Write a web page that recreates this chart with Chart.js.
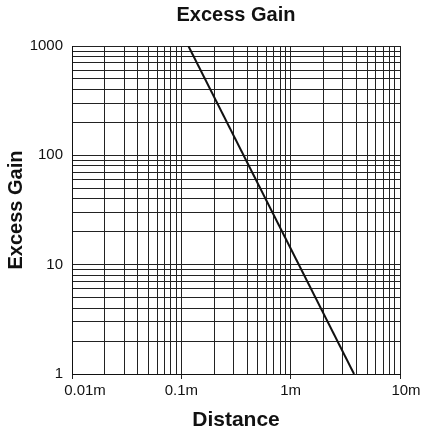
<!DOCTYPE html>
<html>
<head>
<meta charset="utf-8">
<script src="https://cdn.jsdelivr.net/npm/chart.js@4/dist/chart.umd.min.js"></script>
<style>
  html, body { margin: 0; padding: 0; background: #fff; }
  #wrap { width: 422px; height: 438px; }
</style>
</head>
<body>
<div id="wrap"><canvas id="chart1"></canvas></div>
<script>
"use strict";

// data
var distance = [0.116, 3.8];
var gain = [1000, 1];

var xTickValues = [0.01, 0.02, 0.03, 0.04, 0.05, 0.06, 0.07, 0.08, 0.09,
                   0.1, 0.2, 0.3, 0.4, 0.5, 0.6, 0.7, 0.8, 0.9,
                   1, 2, 3, 4, 5, 6, 7, 8, 9, 10];
var xMajor = [0.01, 0.1, 1, 10];
var xLabels = ['0.01m', '0.1m', '1m', '10m'];

var yTickValues = [1, 2, 3, 4, 5, 6, 7, 8, 9,
                   10, 20, 30, 40, 50, 60, 70, 80, 90,
                   100, 200, 300, 400, 500, 600, 700, 800, 900, 1000];
var yMajor = [1, 10, 100, 1000];
var yLabels = ['1', '10', '100', '1000'];

var FONT = 'Arial, "Liberation Sans", Helvetica, sans-serif';
Chart.defaults.font.family = FONT;
Chart.defaults.color = '#111';

function labelFor(majors, labels, v) {
	for (var i = 0; i < majors.length; i++) {
		if (Math.abs(majors[i] - v) < majors[i] * 1e-6) return labels[i];
	}
	return '';
}

// the first and last distance labels sit a little right of their ticks
var shiftEdgeLabels = {
	id: 'shiftEdgeLabels',
	beforeDraw: function(chart) {
		var items = chart.scales.x.getLabelItems(chart.chartArea);
		items.forEach(function(it) {
			if (it.label === '0.01m') it.options.translation[0] += 13;
			if (it.label === '10m') it.options.translation[0] += 6;
		});
	}
};

var ctx = document.getElementById('chart1').getContext('2d');
var myChart = new Chart(ctx, {
	type: 'line',
	data: {
		labels: distance,
		datasets: [{
			label: 'Excess Gain',
			data: distance.map(function(d, i) { return { x: d, y: gain[i] }; }),
			borderColor: '#111',
			borderWidth: 2,
			pointRadius: 0,
			tension: 0,
			fill: false
		}]
	},
	options: {
		responsive: true,
		maintainAspectRatio: false,
		animation: false,
		layout: {
			padding: { left: 0, right: 22, top: 0, bottom: 0 }
		},
		plugins: {
			legend: { display: false },
			tooltip: { enabled: false },
			title: {
				display: true,
				text: 'Excess Gain',
				fullSize: false,
				color: '#111',
				font: { size: 20, weight: 'bold', lineHeight: 1.2 },
				padding: { top: 3.5, bottom: 18.5 }
			}
		},
		scales: {
			x: {
				type: 'logarithmic',
				min: 0.01,
				max: 10,
				afterBuildTicks: function(scale) {
					scale.ticks = xTickValues.map(function(v) { return { value: v }; });
				},
				afterFit: function(scale) { scale.height = 64; },
				ticks: {
					autoSkip: false,
					maxRotation: 0,
					padding: 3,
					font: { size: 15 },
					callback: function(v) { return labelFor(xMajor, xLabels, v); }
				},
				grid: {
					color: '#222',
					lineWidth: 1,
					drawTicks: true,
					tickLength: 5,
					tickColor: function(c) {
						return labelFor(xMajor, xLabels, c.tick.value) ? '#222' : 'rgba(0,0,0,0)';
					}
				},
				border: { display: true, color: '#111', width: 1 },
				title: {
					display: true,
					text: 'Distance',
					color: '#111',
					font: { size: 21, weight: 'bold', lineHeight: 1.2 },
					padding: { top: 0, bottom: 5.4 }
				}
			},
			y: {
				type: 'logarithmic',
				min: 1,
				max: 1000,
				afterBuildTicks: function(scale) {
					scale.ticks = yTickValues.map(function(v) { return { value: v }; });
				},
				afterFit: function(scale) { scale.width = 72; },
				ticks: {
					autoSkip: false,
					padding: 9,
					font: { size: 15 },
					callback: function(v) { return labelFor(yMajor, yLabels, v); }
				},
				grid: {
					color: '#222',
					lineWidth: 1,
					drawTicks: false
				},
				border: { display: true, color: '#111', width: 1 },
				title: {
					display: true,
					text: 'Excess Gain',
					color: '#111',
					font: { size: 20, weight: 'bold', lineHeight: 1.2 },
					padding: { top: 4.5, bottom: 0 }
				}
			}
		}
	},
	plugins: [shiftEdgeLabels]
});
</script>
</body>
</html>
